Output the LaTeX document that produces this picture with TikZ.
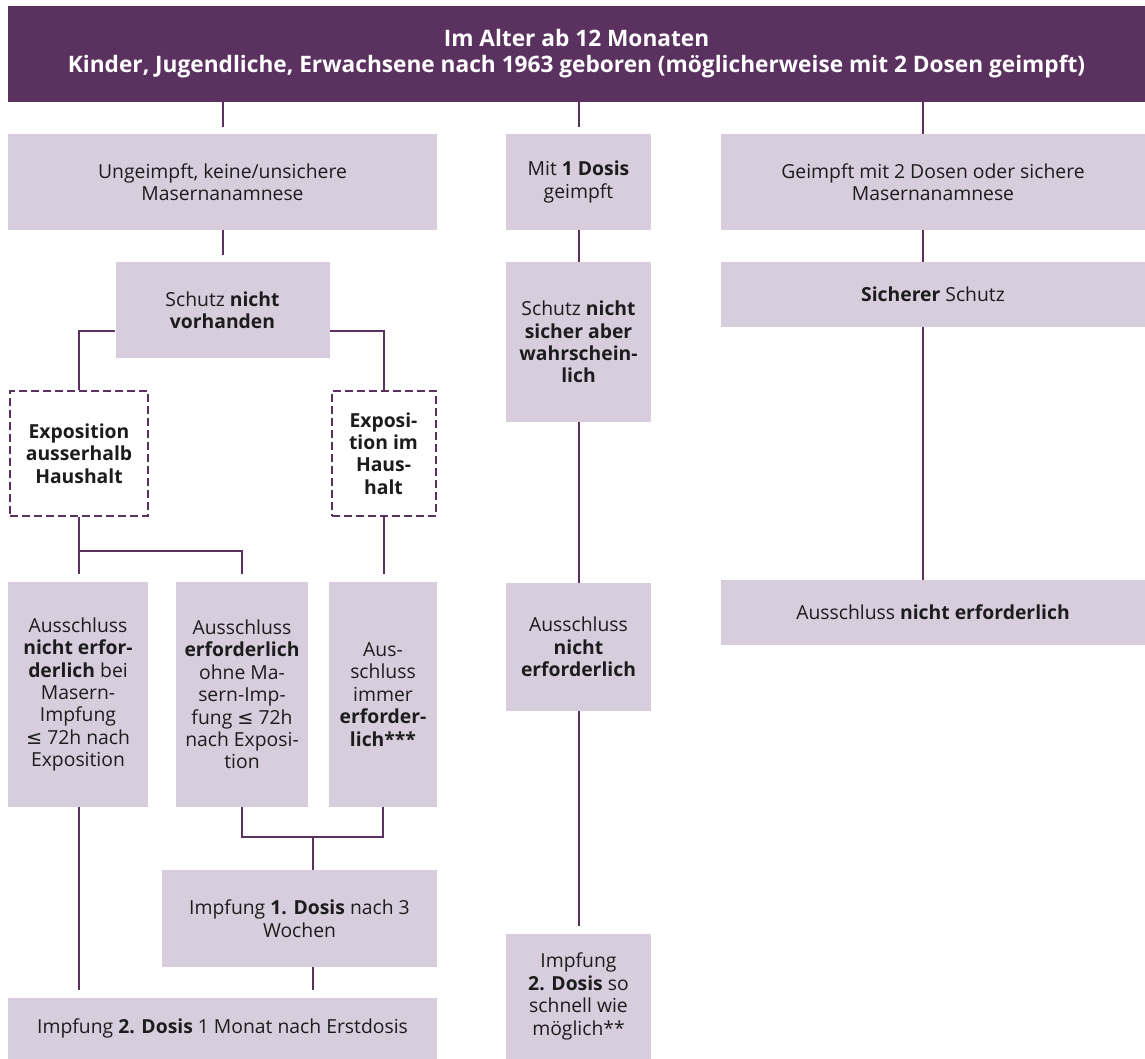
\documentclass[tikz,border=0pt]{standalone}
\usepackage{fontspec}
\setmainfont{Open Sans}
\newfontfamily\symfont{DejaVu Sans}
\usepackage{tikz}
\usetikzlibrary{positioning}

\definecolor{headpurple}{RGB}{91,49,96}
\definecolor{boxlilac}{RGB}{216,205,220}
\definecolor{textdark}{RGB}{28,28,30}
\newcommand{\leqsign}{{\symfont ≤}}

\tikzset{
  box/.style={fill=boxlilac, text=textdark, align=center, inner sep=0pt,
    font=\fontsize{14.5}{16.8}\selectfont},
  expbox/.style={box, fill=white, draw=headpurple, line width=1.5pt,
    dash pattern=on 6pt off 3pt},
  headbox/.style={fill=headpurple, text=white, align=center, inner sep=0pt,
    font=\fontsize{17}{19.5}\selectfont\bfseries},
  link/.style={draw=headpurple, line width=1.5pt},
}

\begin{document}
\begin{tikzpicture}[x=0.75pt,y=0.75pt,yscale=-1,xscale=1]
\useasboundingbox (0,0) rectangle (1145,1059);

% Header
\node[headbox, minimum width=852.75pt, minimum height=72pt] (head) at (576.5,54)
  {Im Alter ab 12 Monaten\\Kinder, Jugendliche, Erwachsene nach 1963 geboren (möglicherweise mit 2 Dosen geimpft)};

% Row 1
\node[box, minimum width=321.75pt, minimum height=72pt] (ungeimpft) at (222.5,182)
  {Ungeimpft, keine/unsichere\\Masernanamnese};
\node[box, minimum width=108.75pt, minimum height=72pt] (eineDosis) at (578.5,182)
  {Mit \textbf{1 Dosis}\\geimpft};
\node[box, minimum width=318pt, minimum height=72pt] (zweiDosen) at (933,182)
  {Geimpft mit 2 Dosen oder sichere\\Masernanamnese};

% Row 2
\node[box, minimum width=160.5pt, minimum height=72pt] (keinSchutz) at (222.5,310)
  {Schutz \textbf{nicht}\\\textbf{vorhanden}};
\node[box, minimum width=108.75pt, minimum height=120pt] (wahrSchutz) at (578.5,342)
  {Schutz \textbf{nicht}\\\textbf{sicher aber}\\\textbf{wahrschein-}\\\textbf{lich}};
\node[box, minimum width=318pt, minimum height=48.75pt] (sichSchutz) at (933,294.5)
  {\textbf{Sicherer} Schutz};

% Exposition (dashed)
\node[expbox, minimum width=103.5pt, minimum height=93.75pt] (expAussen) at (79,453.5)
  {\textbf{Exposition}\\\textbf{ausserhalb}\\\textbf{Haushalt}};
\node[expbox, minimum width=78pt, minimum height=93.75pt] (expHaus) at (383.5,453.5)
  {\textbf{Exposi-}\\\textbf{tion im}\\\textbf{Haus-}\\\textbf{halt}};

% Row 3
\node[box, minimum width=105pt, minimum height=168.75pt] (ausNicht) at (78,694.5)
  {Ausschluss\\\textbf{nicht erfor-}\\\textbf{derlich} bei\\Masern-\\Impfung\\\leqsign\ 72h nach\\Exposition};
\node[box, minimum width=99pt, minimum height=168.75pt] (ausErf) at (242,694.5)
  {Ausschluss\\\textbf{erforderlich}\\ohne Ma-\\sern-Imp-\\fung \leqsign\ 72h\\nach Exposi-\\tion};
\node[box, minimum width=81pt, minimum height=168.75pt] (ausImmer) at (383,694.5)
  {Aus-\\schluss\\immer\\\textbf{erforder-}\\\textbf{lich***}};
\node[box, minimum width=108.75pt, minimum height=96pt] (ausMitte) at (578.5,647)
  {Ausschluss\\\textbf{nicht}\\\textbf{erforderlich}};
\node[box, minimum width=318pt, minimum height=48.75pt] (ausRechts) at (933,612.5)
  {Ausschluss \textbf{nicht erforderlich}};

% Row 4
\node[box, minimum width=206.25pt, minimum height=72.75pt] (impfEins) at (299.5,918.5)
  {Impfung \textbf{1. Dosis} nach 3\\Wochen};
\node[box, minimum width=321.75pt, minimum height=45.75pt] (impfZwei) at (222.5,1028.5)
  {Impfung \textbf{2. Dosis} 1 Monat nach Erstdosis};
\node[box, minimum width=108.75pt, minimum height=93.75pt] (impfSchnell) at (578.5,996.5)
  {Impfung\\\textbf{2. Dosis} so\\schnell wie\\möglich**};

% Junctions
\coordinate (rcol) at (923,0);
\coordinate (jAussen) at (79,551);
\coordinate (jUnten) at (313,837);

% Connectors left column
\draw[link] (head.south -| ungeimpft) -- ([yshift=-5pt]ungeimpft.north);
\draw[link] (ungeimpft.south) -- ([yshift=-5pt]keinSchutz.north);
\draw[link] ([yshift=15.75pt]keinSchutz.west) -| (expAussen.north);
\draw[link] ([yshift=15.75pt]keinSchutz.east) -| (expHaus.north);
\draw[link] (expAussen.south) -- ([yshift=-6pt]ausNicht.north -| expAussen);
\draw[link] (jAussen) -| ([yshift=-6pt]ausErf.north);
\draw[link] (expHaus.south) -- ([yshift=-6pt]ausImmer.north -| expHaus);
\draw[link] (ausErf.south) |- (jUnten) -| (ausImmer.south);
\draw[link] (jUnten) -- (impfEins.north -| jUnten);
\draw[link] (ausNicht.south -| expAussen) -- ([yshift=-6pt]impfZwei.north -| expAussen);
\draw[link] (impfEins.south -| jUnten) -- ([yshift=-6pt]impfZwei.north -| jUnten);

% Connectors middle column
\draw[link] (head.south -| eineDosis) -- ([yshift=-5pt]eineDosis.north);
\draw[link] (eineDosis.south) -- (wahrSchutz.north);
\draw[link] (wahrSchutz.south) -- (ausMitte.north);
\draw[link] (ausMitte.south) -- ([yshift=-6pt]impfSchnell.north);

% Connectors right column
\draw[link] (head.south -| rcol) -- (zweiDosen.north -| rcol);
\draw[link] (zweiDosen.south -| rcol) -- (sichSchutz.north -| rcol);
\draw[link] (sichSchutz.south -| rcol) -- (ausRechts.north -| rcol);
\end{tikzpicture}
\end{document}
